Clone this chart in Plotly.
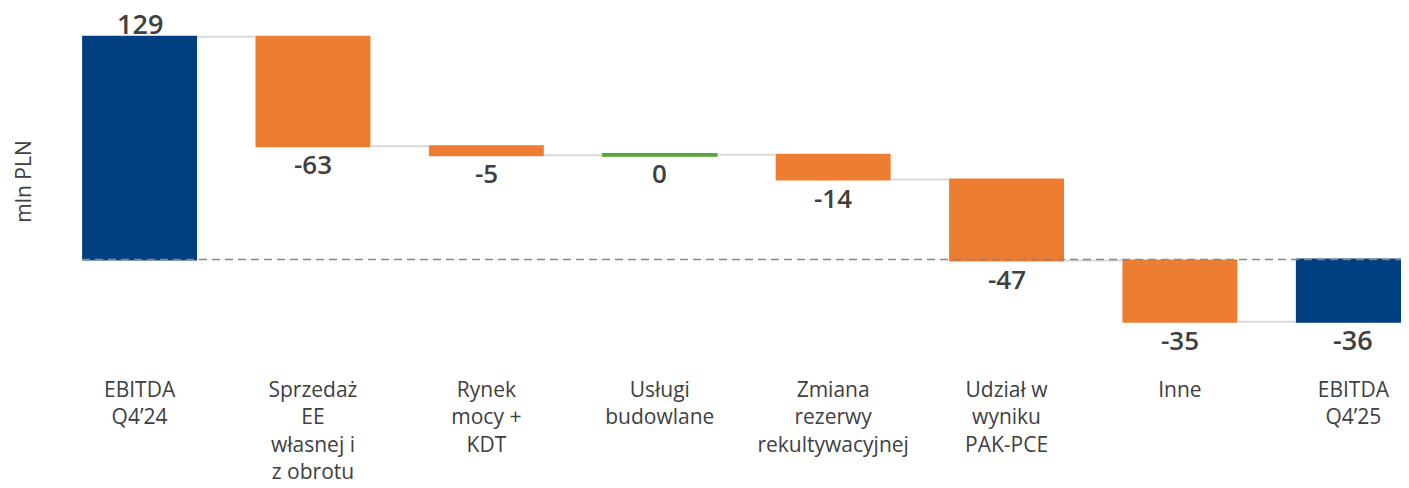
import numpy as np
import plotly.graph_objects as go

# ---- data ----
categories = [
    "EBITDA<br>Q4’24",
    "Sprzedaż<br>EE<br>własnej i<br>z obrotu",
    "Rynek<br>mocy +<br>KDT",
    "Usługi<br>budowlane",
    "Zmiana<br>rezerwy<br>rekultywacyjnej",
    "Udział w<br>wyniku<br>PAK-PCE",
    "Inne",
    "EBITDA<br>Q4’25",
]
values = [129.0, -63.4, -5.2, 0.3, -14.4, -46.9, -35.4, -36.0]
measures = ["absolute", "relative", "relative", "relative",
            "relative", "relative", "relative", "absolute"]
y_title = "mln PLN"

# ---- styles ----
BLUE = "#004080"
ORANGE = "#ED7D31"
GREEN = "#5AA43A"
TXT = "#404040"
FONT = "Open Sans"

x = np.arange(len(categories))
vals = np.array(values)

# compute bar start/end from data
starts, ends = [], []
run = 0.0
for v, m in zip(vals, measures):
    if m == "absolute":
        s, e = 0.0, v
    else:
        s, e = run, run + v
    run = e
    starts.append(s)
    ends.append(e)
starts = np.array(starts)
ends = np.array(ends)

fig = go.Figure()
fig.add_trace(go.Waterfall(
    x=x, y=vals, measure=measures,
    width=0.663,
    totals=dict(marker=dict(color=BLUE, line=dict(width=0))),
    decreasing=dict(marker=dict(color=ORANGE, line=dict(width=0))),
    increasing=dict(marker=dict(color=GREEN, line=dict(color=GREEN, width=1.2))),
    connector=dict(line=dict(color="#D9D9D9", width=2)),
    showlegend=False,
    hoverinfo="skip",
))

annotations = []
for i, (v, m, s, e) in enumerate(zip(vals, measures, starts, ends)):
    txt = f"{v:.0f}"
    is_total = m == "absolute"
    size = 27 if is_total else 26
    if is_total and v > 0:
        ypos, shift = max(s, e), 13.5
    else:
        ypos, shift = min(s, e), -18
    annotations.append(dict(
        x=x[i], y=ypos, xref="x", yref="y", text=txt, showarrow=False,
        yanchor="middle", xanchor="center", yshift=shift, borderpad=0,
        font=dict(family=FONT, size=size, color=TXT, weight=600),
    ))

annotations.append(dict(
    x=(15 - 74) / 1327, xref="paper", y=45, yref="y", text=y_title,
    textangle=-90, showarrow=False, xanchor="center", yanchor="middle",
    borderpad=0,
    font=dict(family=FONT, size=21, color=TXT),
))

fig.add_shape(type="line", xref="paper", x0=0, x1=1, yref="y", y0=0, y1=0,
              line=dict(color="#888888", width=1.5, dash="8px,5px"), layer="above")

fig.update_layout(
    width=1401, height=480,
    margin=dict(l=74, r=0, t=22, b=113),
    plot_bgcolor="white", paper_bgcolor="white",
    font=dict(family=FONT, color=TXT),
    annotations=annotations,
    xaxis=dict(
        tickmode="array", tickvals=x, ticktext=categories,
        range=[-0.332, 7.321], showgrid=False, zeroline=False, showline=False,
        ticks="", tickfont=dict(family=FONT, size=21, color=TXT),
        automargin=False,
    ),
    yaxis=dict(
        range=[-66.9, 132.9], showgrid=False, zeroline=False, showline=False,
        showticklabels=False, ticks="", automargin=False,
    ),
)

fig.write_html("out.html")
